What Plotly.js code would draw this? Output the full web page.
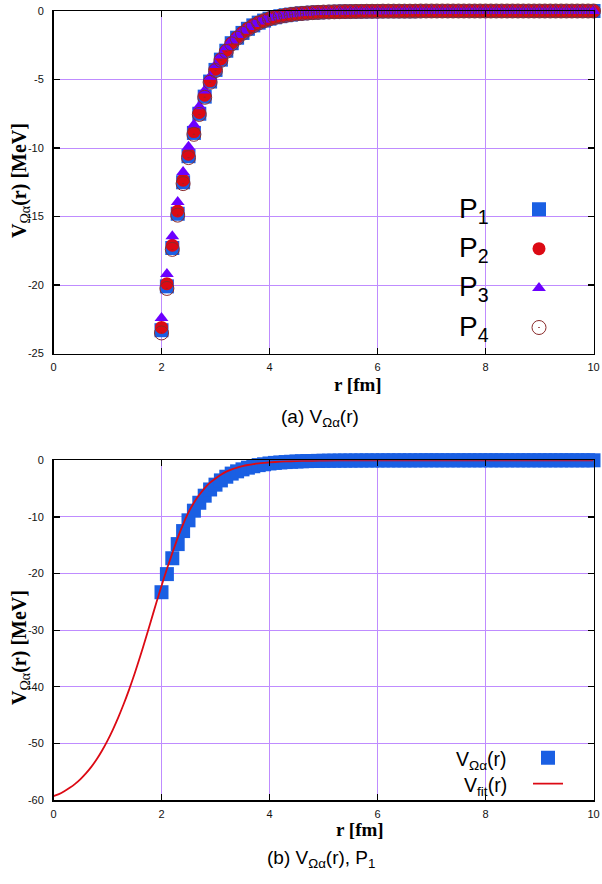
<!DOCTYPE html>
<html><head><meta charset="utf-8">
<script src="https://cdn.plot.ly/plotly-3.0.1.min.js"></script>
<style>html,body{margin:0;padding:0;background:#fff;} #chart{width:602px;height:884px;}</style>
</head><body><div id="chart"></div>
<script>
// ---- data ----
const r = [2.0,2.1,2.2,2.3,2.4,2.5,2.6,2.7,2.8,2.9,
  3.0,3.1,3.2,3.3,3.4,3.5,3.6,3.7,3.8,3.9,
  4.0,4.1,4.2,4.3,4.4,4.5,4.6,4.7,4.8,4.9,
  5.0,5.1,5.2,5.3,5.4,5.5,5.6,5.7,5.8,5.9,
  6.0,6.1,6.2,6.3,6.4,6.5,6.6,6.7,6.8,6.9,
  7.0,7.1,7.2,7.3,7.4,7.5,7.6,7.7,7.8,7.9,
  8.0,8.1,8.2,8.3,8.4,8.5,8.6,8.7,8.8,8.9,
  9.0,9.1,9.2,9.3,9.4,9.5,9.6,9.7,9.8,9.9,10.0];
const p1 = [-23.3,-20.1,-17.3,-14.8,-12.5,-10.6,-8.9,-7.5,-6.25,-5.15,
  -4.3,-3.55,-2.9,-2.35,-1.95,-1.6,-1.3,-1.05,-0.85,-0.7,
  -0.56,-0.46,-0.38,-0.31,-0.26,-0.21,-0.17,-0.14,-0.12,-0.1,
  -0.08,-0.07,-0.06,-0.05,-0.04,-0.04,-0.03,-0.03,-0.02,-0.02,
  -0.02,-0.01,-0.01,-0.01,-0.01,-0.01,-0.01,-0.01,0,0,
  0,0,0,0,0,0,0,0,0,0,
  0,0,0,0,0,0,0,0,0,0,
  0,0,0,0,0,0,0,0,0,0,0];
const p2 = [-23.1,-19.9,-17.1,-14.6,-12.35,-10.45,-8.8,-7.4,-6.15,-5.1,
  -4.25,-3.5,-2.87,-2.33,-1.92,-1.57,-1.28,-1.04,-0.84,-0.69,
  -0.55,-0.45,-0.37,-0.3,-0.25,-0.2,-0.17,-0.14,-0.11,-0.09,
  -0.08,-0.07,-0.06,-0.05,-0.04,-0.03,-0.03,-0.02,-0.02,-0.02,
  -0.01,-0.01,-0.01,-0.01,-0.01,-0.01,0,0,0,0,
  0,0,0,0,0,0,0,0,0,0,
  0,0,0,0,0,0,0,0,0,0,
  0,0,0,0,0,0,0,0,0,0,0];
const p3 = [-22.4,-19.2,-16.45,-13.95,-11.75,-9.9,-8.3,-6.95,-5.8,-4.8,
  -3.95,-3.25,-2.65,-2.15,-1.76,-1.44,-1.17,-0.95,-0.77,-0.63,
  -0.5,-0.41,-0.34,-0.28,-0.23,-0.18,-0.15,-0.12,-0.1,-0.08,
  -0.07,-0.06,-0.05,-0.04,-0.03,-0.03,-0.02,-0.02,-0.02,-0.01,
  -0.01,-0.01,-0.01,-0.01,0,0,0,0,0,0,
  0,0,0,0,0,0,0,0,0,0,
  0,0,0,0,0,0,0,0,0,0,
  0,0,0,0,0,0,0,0,0,0,0];
const p4 = [-23.5,-20.25,-17.4,-14.9,-12.6,-10.7,-9.0,-7.55,-6.3,-5.2,
  -4.35,-3.6,-2.95,-2.4,-1.98,-1.63,-1.33,-1.08,-0.87,-0.71,
  -0.57,-0.47,-0.39,-0.32,-0.26,-0.21,-0.18,-0.15,-0.12,-0.1,
  -0.08,-0.07,-0.06,-0.05,-0.04,-0.04,-0.03,-0.03,-0.02,-0.02,
  -0.02,-0.01,-0.01,-0.01,-0.01,-0.01,-0.01,-0.01,0,0,
  0,0,0,0,0,0,0,0,0,0,
  0,0,0,0,0,0,0,0,0,0,
  0,0,0,0,0,0,0,0,0,0,0];
const fitR = [0,0.1,0.2,0.3,0.4,0.5,0.6,0.7,0.8,0.9,
  1.0,1.1,1.2,1.3,1.4,1.5,1.6,1.7,1.8,1.9,
  2.0,2.1,2.2,2.3,2.4,2.5,2.6,2.7,2.8,2.9,
  3.0,3.1,3.2,3.3,3.4,3.5,3.6,3.7,3.8,3.9,
  4.0,4.2,4.4,4.6,4.8,5.0,5.5,6,7,8,9,10];
const fitV = [-59.3,-58.95,-58.45,-57.85,-57.15,-56.3,-55.3,-54.15,-52.8,-51.25,
  -49.5,-47.55,-45.4,-43.05,-40.5,-37.75,-34.8,-31.7,-28.5,-25.3,
  -22.2,-19.2,-16.4,-13.7,-11.3,-9.2,-7.5,-6.1,-4.9,-3.95,
  -3.2,-2.55,-2.0,-1.6,-1.28,-1.03,-0.83,-0.67,-0.55,-0.45,
  -0.37,-0.25,-0.17,-0.11,-0.08,-0.05,-0.02,-0.01,0,0,0,0];
const xTicks = [0,2,4,6,8,10];
const xTickText = ['0','2','4','6','8','10'];
const yTicksTop = [-25,-20,-15,-10,-5,0];
const yTickTextTop = ['-25','-20','-15','-10','-5','0'];
const yTicksBot = [-60,-50,-40,-30,-20,-10,0];
const yTickTextBot = ['-60','-50','-40','-30','-20','-10','0'];
const seriesNames = ['P<sub>1</sub>','P<sub>2</sub>','P<sub>3</sub>','P<sub>4</sub>'];
const botNames = ['V<sub>\u03A9\u03B1</sub>(r)','V<sub>fit</sub>(r)'];

// ---- style ----
const W = 602, H = 884;
const px = x => x / W;
const py = y => 1 - y / H;
const BLUE = '#1a5fe3', RED = '#dc0a14', PURPLE = '#6c00ff', BROWN = '#8a2b2b', GRID = '#bf8cff';
const SANS = 'Liberation Sans, Arial, Helvetica, sans-serif';
const SERIF = 'Liberation Serif, Times New Roman, serif';

const traces = [
  {x: r, y: p1, type: 'scatter', mode: 'markers', name: ' ', legend: 'legend', xaxis: 'x', yaxis: 'y', cliponaxis: false,
   marker: {symbol: 'square', size: 14, color: BLUE}},
  {x: r, y: p2, type: 'scatter', mode: 'markers', name: ' ', legend: 'legend', xaxis: 'x', yaxis: 'y', cliponaxis: false,
   marker: {symbol: 'circle', size: 13, color: RED}},
  {x: r, y: p3, type: 'scatter', mode: 'markers', name: ' ', legend: 'legend', xaxis: 'x', yaxis: 'y', cliponaxis: false,
   marker: {symbol: 'triangle-up', size: 12, color: PURPLE}},
  {x: r, y: p4, type: 'scatter', mode: 'markers', name: ' ', legend: 'legend', xaxis: 'x', yaxis: 'y', cliponaxis: false,
   marker: {symbol: 'circle-open-dot', size: 14, color: BROWN, line: {width: 1, color: BROWN}}},
  {x: r, y: p1, type: 'scatter', mode: 'markers', name: ' ', legend: 'legend2', xaxis: 'x2', yaxis: 'y2', cliponaxis: false,
   marker: {symbol: 'square', size: 14, color: BLUE}},
  {x: fitR, y: fitV, type: 'scatter', mode: 'lines', name: ' ', legend: 'legend2', xaxis: 'x2', yaxis: 'y2', cliponaxis: false,
   line: {color: RED, width: 1.8, shape: 'spline', smoothing: 0.8}}
];

const ax = {
  showgrid: true, gridcolor: GRID, gridwidth: 1, zeroline: false,
  showline: true, linecolor: '#000', linewidth: 1.5, mirror: 'ticks',
  ticks: 'inside', ticklen: 6, tickwidth: 1.2, tickcolor: '#000',
  tickfont: {family: SANS, size: 11, color: '#111'}, tickmode: 'array', fixedrange: true
};
const XD = [px(53.5), px(593.5)];

const layout = {
  width: W, height: H, autosize: false,
  margin: {l: 0, r: 0, t: 0, b: 0, pad: 0},
  paper_bgcolor: '#fff', plot_bgcolor: '#fff',
  showlegend: true,
  xaxis: Object.assign({}, ax, {domain: XD, range: [0, 10], anchor: 'y', tickvals: xTicks, ticktext: xTickText, ticklabelstandoff: 3}),
  yaxis: Object.assign({}, ax, {domain: [py(353.5), py(11)], range: [-25, 0], anchor: 'x', tickvals: yTicksTop, ticktext: yTickTextTop, ticklabelstandoff: 6}),
  xaxis2: Object.assign({}, ax, {domain: XD, range: [0, 10], anchor: 'y2', tickvals: xTicks, ticktext: xTickText, ticklabelstandoff: 3}),
  yaxis2: Object.assign({}, ax, {domain: [py(800), py(460.3)], range: [-60, 0], anchor: 'x2', tickvals: yTicksBot, ticktext: yTickTextBot, ticklabelstandoff: 6}),
  legend: {x: px(519), xanchor: 'left', y: py(184.6), yanchor: 'top', bgcolor: 'rgba(0,0,0,0)', borderwidth: 0,
           font: {family: SANS, size: 28}, itemsizing: 'trace', tracegroupgap: 0},
  legend2: {x: px(528), xanchor: 'left', y: py(739.7), yanchor: 'top', bgcolor: 'rgba(0,0,0,0)', borderwidth: 0,
            font: {family: SANS, size: 17.7}, itemsizing: 'trace', tracegroupgap: 0},
  shapes: [
    {type: 'rect', xref: 'paper', yref: 'paper', x0: px(458), x1: px(592), y0: py(342), y1: py(188),
     fillcolor: '#fff', line: {width: 0}, layer: 'between'},
    {type: 'rect', xref: 'paper', yref: 'paper', x0: px(423), x1: px(592), y0: py(797), y1: py(745.5),
     fillcolor: '#fff', line: {width: 0}, layer: 'between'}
  ],
  annotations: [
    // legend labels (top)
    ...seriesNames.map((t, i) => ({text: t, xref: 'paper', yref: 'paper', x: px(491), y: py(210 + i * 39.4),
      xanchor: 'right', yanchor: 'middle', showarrow: false, font: {family: SANS, size: 28, color: '#000'}})),
    // legend labels (bottom)
    ...botNames.map((t, i) => ({text: t, xref: 'paper', yref: 'paper', x: px(509), y: py(760 + i * 26),
      xanchor: 'right', yanchor: 'middle', showarrow: false, font: {family: SANS, size: 19.5, color: '#000'}})),
    // axis titles
    {text: '<b>r [fm]</b>', xref: 'paper', yref: 'paper', x: px(358), y: py(384), xanchor: 'center', yanchor: 'middle',
     showarrow: false, font: {family: SERIF, size: 19, color: '#000'}},
    {text: '<b>r [fm]</b>', xref: 'paper', yref: 'paper', x: px(360), y: py(829), xanchor: 'center', yanchor: 'middle',
     showarrow: false, font: {family: SERIF, size: 19, color: '#000'}},
    {text: '<b>V</b><sub>\u03A9\u03B1</sub><b>(r) [MeV]</b>', xref: 'paper', yref: 'paper', x: px(21), y: py(181), textangle: -90,
     xanchor: 'center', yanchor: 'middle', showarrow: false, font: {family: SERIF, size: 20, color: '#000'}},
    {text: '<b>V</b><sub>\u03A9\u03B1</sub><b>(r) [MeV]</b>', xref: 'paper', yref: 'paper', x: px(20), y: py(648), textangle: -90,
     xanchor: 'center', yanchor: 'middle', showarrow: false, font: {family: SERIF, size: 20, color: '#000'}},
    // captions
    {text: '(a) V<sub>\u03A9\u03B1</sub>(r)', xref: 'paper', yref: 'paper', x: px(320), y: py(418), xanchor: 'center', yanchor: 'middle',
     showarrow: false, font: {family: SANS, size: 19, color: '#000'}},
    {text: '(b) V<sub>\u03A9\u03B1</sub>(r), P<sub>1</sub>', xref: 'paper', yref: 'paper', x: px(321), y: py(859), xanchor: 'center', yanchor: 'middle',
     showarrow: false, font: {family: SANS, size: 19, color: '#000'}}
  ]
};

Plotly.newPlot('chart', traces, layout, {staticPlot: true, displayModeBar: false});
</script>
</body></html>
